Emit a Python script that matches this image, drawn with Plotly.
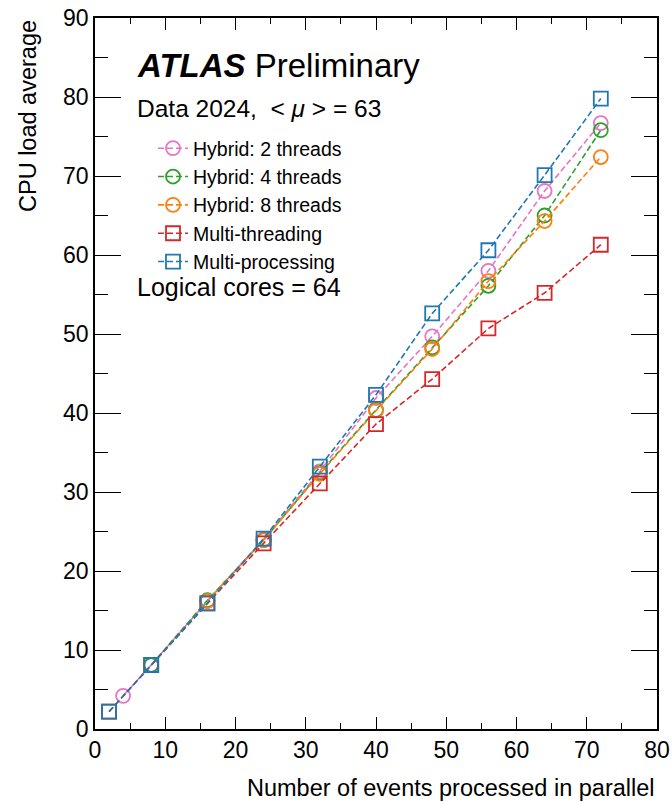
import plotly.graph_objects as go

# ---- data ----
x_mp = [2, 8, 16, 24, 32, 40, 48, 56, 64, 72]
y_mp = [2.2, 8.1, 15.9, 24.1, 33.2, 42.3, 52.6, 60.6, 70.1, 79.8]

x_mt = [2, 8, 16, 24, 32, 40, 48, 56, 64, 72]
y_mt = [2.2, 8.1, 15.9, 23.5, 31.1, 38.6, 44.3, 50.7, 55.2, 61.3]

x_h2 = [4, 8, 16, 24, 32, 40, 48, 56, 64, 72]
y_h2 = [4.2, 8.1, 16.2, 24.0, 32.6, 41.9, 49.7, 58.0, 68.1, 76.7]

x_h4 = [8, 16, 24, 32, 40, 48, 56, 64, 72]
y_h4 = [8.1, 16.3, 23.9, 32.4, 40.4, 48.3, 56.1, 65.0, 75.8]

x_h8 = [16, 24, 32, 40, 48, 56, 64, 72]
y_h8 = [16.2, 23.9, 32.3, 40.3, 48.1, 56.7, 64.3, 72.4]

series = [
    ("Hybrid: 2 threads", x_h2, y_h2, "#e377c2", "circle-open"),
    ("Hybrid: 4 threads", x_h4, y_h4, "#2ca02c", "circle-open"),
    ("Hybrid: 8 threads", x_h8, y_h8, "#ff7f0e", "circle-open"),
    ("Multi-threading", x_mt, y_mt, "#d62728", "square-open"),
    ("Multi-processing", x_mp, y_mp, "#1f77b4", "square-open"),
]

FONT = "Liberation Sans, Arial, Helvetica, sans-serif"

fig = go.Figure()
for name, xs, ys, col, sym in series:
    fig.add_trace(go.Scatter(
        x=xs, y=ys, name=name, mode="lines+markers",
        line=dict(color=col, width=1.6, dash="6px,3px"),
        marker=dict(symbol=sym, size=14, color=col, line=dict(width=1.8, color=col)),
    ))

axis_common = dict(
    showgrid=False, zeroline=False, showline=True, linecolor="black", linewidth=1.6,
    mirror="ticks", ticks="inside", tickcolor="black", tickwidth=1.4, automargin=False,
    tickfont=dict(family=FONT, size=23, color="black"),
)

fig.update_xaxes(range=[0, 80], dtick=10, tick0=0, ticklen=12,
                 minor=dict(dtick=5, ticklen=6, ticks="inside", tickcolor="black", tickwidth=1.4),
                 **axis_common)
fig.update_yaxes(range=[0, 90], dtick=10, tick0=0, ticklen=26,
                 minor=dict(dtick=5, ticklen=13, ticks="inside", tickcolor="black", tickwidth=1.4),
                 **axis_common)

def px(xp):
    return (xp - 95) / 562.0

def py(yp):
    return (729 - yp) / 711.0

annotations = [
    dict(text="<b><i>ATLAS</i></b> Preliminary", x=px(135), y=py(65), xanchor="left", yanchor="middle",
         font=dict(family=FONT, size=33, color="black")),
    dict(text="Data 2024,  &lt; <i>μ</i> &gt; = 63", x=px(135), y=py(108), xanchor="left", yanchor="middle",
         font=dict(family=FONT, size=24.5, color="black")),
    dict(text="Logical cores = 64", x=px(135), y=py(287), xanchor="left", yanchor="middle",
         font=dict(family=FONT, size=25, color="black")),
    dict(text="Number of events processed in parallel", x=1.0, y=py(788), xanchor="right", yanchor="middle",
         font=dict(family=FONT, size=23.5, color="black")),
    dict(text="CPU load average", x=px(28), y=1.0, xanchor="center", yanchor="top", textangle=-90,
         font=dict(family=FONT, size=23.5, color="black")),
]
for a in annotations:
    a.update(xref="paper", yref="paper", showarrow=False)

fig.update_layout(
    width=672, height=802,
    margin=dict(l=95, r=15, t=18, b=73, autoexpand=False),
    paper_bgcolor="white", plot_bgcolor="white",
    annotations=annotations,
    showlegend=True,
    legend=dict(x=px(153), y=py(129), xanchor="left", yanchor="top",
                bgcolor="rgba(0,0,0,0)", borderwidth=0,
                font=dict(family=FONT, size=19.5, color="black"),
                tracegroupgap=0, itemwidth=30),
)

fig.write_html("out.html")
